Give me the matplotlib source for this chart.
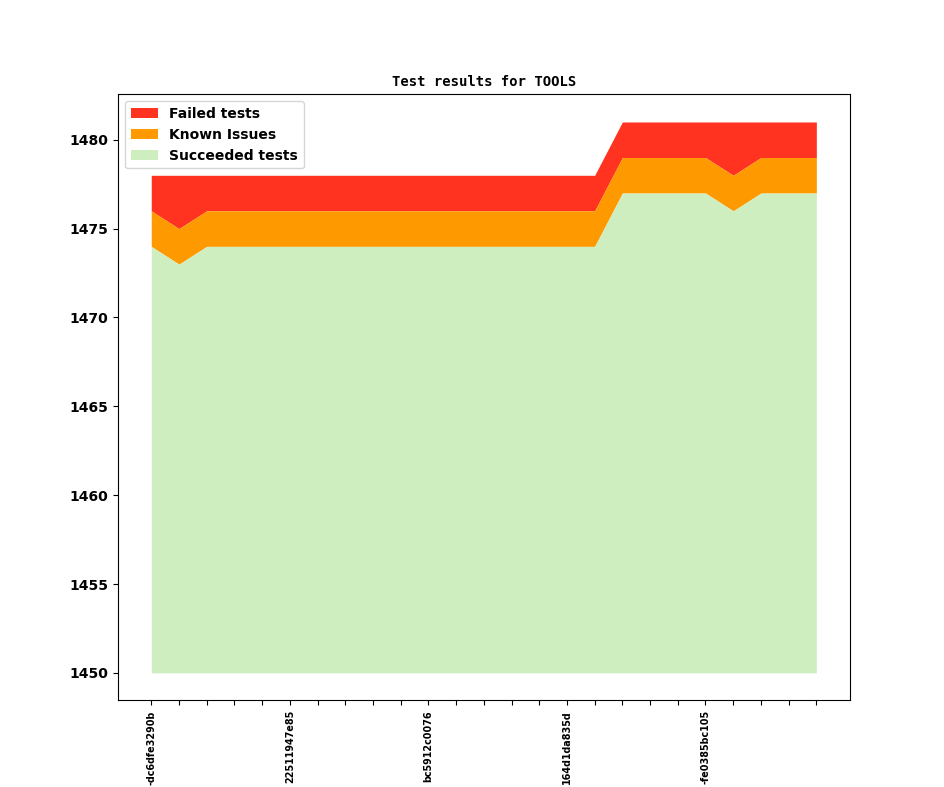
import numpy as np
import matplotlib
matplotlib.use("Agg")
import matplotlib.pyplot as plt

# test counts per build (25 builds)
succeeded = [1474, 1473, 1474, 1474, 1474, 1474, 1474, 1474, 1474, 1474,
             1474, 1474, 1474, 1474, 1474, 1474, 1474, 1477, 1477, 1477,
             1477, 1476, 1477, 1477, 1477]
known = [2, 2, 2, 2, 2, 2, 2, 2, 2, 2,
         2, 2, 2, 2, 2, 2, 2, 2, 2, 2,
         2, 2, 2, 2, 2]
failed = [2, 3, 2, 2, 2, 2, 2, 2, 2, 2,
          2, 2, 2, 2, 2, 2, 2, 2, 2, 2,
          2, 3, 2, 2, 2]
base = 1450

# only every 5th build gets a label
label_pos = [0, 5, 10, 15, 20]
build_labels = ["-dc6dfe3290b", "22511947e85", "bc5912c0076",
                "164d1da835d", "-fe0385bc105"]

x = np.arange(len(succeeded))
succ = np.array(succeeded)
kn = succ + np.array(known)
tot = kn + np.array(failed)

fig, ax = plt.subplots(figsize=(9.44, 7.87), dpi=100)

ax.fill_between(x, kn, tot, color='#ff331f', lw=0, label='Failed tests')
ax.fill_between(x, succ, kn, color='#ff9900', lw=0, label='Known Issues')
ax.fill_between(x, base, succ, color='#cfeebf', lw=0, label='Succeeded tests')

ax.set_title("Test results for TOOLS", fontsize=10, fontweight='bold',
             family='DejaVu Sans Mono')

labels = ['' for _ in x]
for p, lab in zip(label_pos, build_labels):
    labels[p] = lab
ax.set_xticks(x)
ax.set_xticklabels(labels, rotation=90, fontsize=6.9, fontweight='bold')

for t in ax.get_yticklabels():
    t.set_fontweight('bold')
    t.set_fontsize(10)

ax.legend(loc='upper left', prop={'weight': 'bold', 'size': 10})

fig.savefig("out.png", dpi=100)
